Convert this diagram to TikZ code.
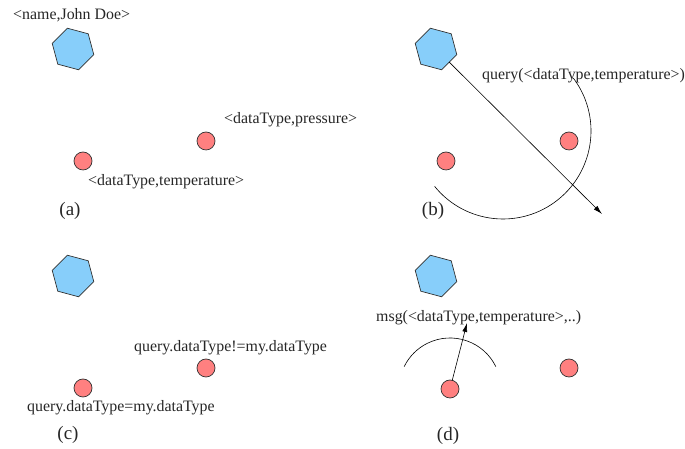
\documentclass[tikz,border=0pt]{standalone}
\usepackage{fontspec}
\setmainfont{Liberation Serif}
\usetikzlibrary{shapes.geometric,arrows.meta}
\definecolor{hexblue}{RGB}{135,206,250}
\definecolor{dotred}{RGB}{255,128,128}
\tikzset{
  hexnode/.style={regular polygon, regular polygon sides=6, shape border rotate=-15,
    minimum size=43pt, inner sep=0pt, outer sep=0pt, draw=black!80, fill=hexblue, line width=0.7pt},
  dotnode/.style={circle, minimum size=18pt, inner sep=0pt, outer sep=0pt, draw=black!80, fill=dotred, line width=0.7pt},
  lbl/.style={font=\fontsize{15.9}{18}\selectfont, inner sep=0pt, anchor=west, text=black!85},
  captxt/.style={font=\fontsize{19}{21}\selectfont, inner sep=0pt, text=black!85},
  msgarrow/.style={line width=0.6pt, -{Latex[length=9pt,width=5pt]}},
  wave/.style={line width=0.6pt}
}
\begin{document}
\begin{tikzpicture}[x=1pt,y=1pt]
\useasboundingbox (0,0) rectangle (685,449);
% panel (a)
\node[lbl] (tname) at (13,434) {<name,John Doe>};
\node[hexnode] (ha) at (73,400) {};
\node[dotnode] (a1) at (83,288) {};
\node[dotnode] (a2) at (206,308) {};
\node[lbl] (tpress) at (224,329) {<dataType,pressure>};
\node[lbl] (ttemp) at (88,267) {<dataType,temperature>};
\node[captxt] (capa) at (70,238) {(a)};
% panel (b)
\node[hexnode] (hb) at (436,400) {};
\node[dotnode] (b1) at (446,288) {};
\node[dotnode] (b2) at (569,308) {};
\node[lbl] (tquery) at (482,373) {query(<dataType,temperature>)};
\node[captxt] (capb) at (433,238) {(b)};
\coordinate (wb) at (503,318);
\coordinate (tipb) at (602,235);
\draw[wave] ([shift={(219:88)}]wb) arc[start angle=219, end angle=397, radius=88];
\draw[msgarrow] (hb) -- (tipb);
% panel (c)
\node[hexnode] (hc) at (73,173) {};
\node[dotnode] (c1) at (83,61) {};
\node[dotnode] (c2) at (206,81) {};
\node[lbl] (tneq) at (134,101) {query.dataType!=my.dataType};
\node[lbl] (teq) at (27,41) {query.dataType=my.dataType};
\node[captxt] (capc) at (68,14) {(c)};
% panel (d)
\node[hexnode] (hd) at (436,173) {};
\node[dotnode] (d1) at (450,60) {};
\node[dotnode] (d2) at (569,81) {};
\node[lbl] (tmsg) at (376,131) {msg(<dataType,temperature>,..)};
\node[captxt] (capd) at (448,13) {(d)};
\coordinate (tipd) at (467,126);
\draw[wave] ([shift={(26:51)}]d1.center) arc[start angle=26, end angle=154, radius=51];
\draw[msgarrow] (d1) -- (tipd);
\end{tikzpicture}
\end{document}
